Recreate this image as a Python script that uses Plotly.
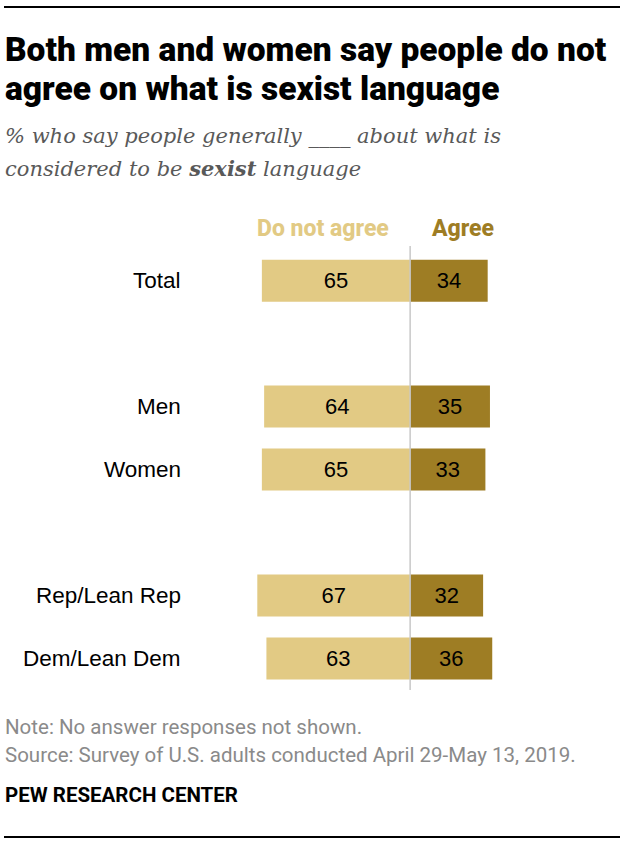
import plotly.graph_objects as go

# data
categories = ["Total", "Men", "Women", "Rep/Lean Rep", "Dem/Lean Dem"]
slots = [0, 2, 3, 5, 6]          # empty slots at 1 and 4 separate the groups
do_not_agree = [65, 64, 65, 67, 63]
agree = [34, 35, 33, 32, 36]

LIGHT = "#E2CA84"
DARK = "#9E7D24"
W, H = 624, 846

# plot area in pixels
L, T = 250, 246
PW = 276
PH = 444
R, B = W - L - PW, H - T - PH


def px(x, y):
    # page pixels -> paper coords
    return (x - L) / PW, 1 - (y - T) / PH


SANS = "Liberation Sans, Arial"
NARROW = "Liberation Sans Narrow, Roboto"

fig = go.Figure()
fig.add_trace(go.Bar(
    y=slots, x=[-v for v in do_not_agree], orientation="h",
    marker=dict(color=LIGHT, line=dict(width=0)), width=0.667,
    text=[str(v) for v in do_not_agree], textposition="inside",
    insidetextanchor="middle",
    textfont=dict(family=SANS, size=22, color="#000"),
    hoverinfo="skip",
))
fig.add_trace(go.Bar(
    y=slots, x=agree, orientation="h",
    marker=dict(color=DARK, line=dict(width=0)), width=0.667,
    text=[str(v) for v in agree], textposition="inside",
    insidetextanchor="middle",
    textfont=dict(family=SANS, size=22, color="#000"),
    hoverinfo="skip",
))

ann = []
for cat, s in zip(categories, slots):
    ann.append(dict(xref="paper", yref="y", x=px(183, 0)[0], y=s, text=cat,
                    xanchor="right", yanchor="middle", showarrow=False,
                    font=dict(family=SANS, size=22.5, color="#000")))

# column headers
ann.append(dict(xref="x", yref="paper", x=-38, y=px(0, 228)[1], text="Do not agree",
                showarrow=False, xanchor="center", yanchor="middle",
                font=dict(family="Roboto", size=23, weight=800, color=LIGHT)))
ann.append(dict(xref="x", yref="paper", x=23, y=px(0, 228)[1], text="Agree",
                showarrow=False, xanchor="center", yanchor="middle",
                font=dict(family="Roboto", size=23, weight=800, color=DARK)))

# title, subtitle, notes
x0 = px(3, 0)[0]
title_lines = ["Both men and women say people do not", "agree on what is sexist language"]
for line, y in zip(title_lines, [49, 88]):
    ann.append(dict(xref="paper", yref="paper", x=x0, y=px(0, y)[1], text=line,
                    showarrow=False, xanchor="left", yanchor="middle",
                    font=dict(family="Roboto", size=33.5, weight=900, color="#000")))
sub_lines = ["<i>% who say people generally ____ about what is</i>",
             "<i>considered to be <b>sexist</b> language</i>"]
for line, y in zip(sub_lines, [136, 168]):
    ann.append(dict(xref="paper", yref="paper", x=x0, y=px(0, y)[1], text=line,
                    showarrow=False, xanchor="left", yanchor="middle",
                    font=dict(family="DejaVu Serif", size=21, color="#595959")))
notes = [("Note: No answer responses not shown.", 727, "#8a8a8a", False),
         ("Source: Survey of U.S. adults conducted April 29-May 13, 2019.", 755, "#8a8a8a", False),
         ("PEW RESEARCH CENTER", 795, "#000", True)]
for txt, y, col, bold in notes:
    ann.append(dict(xref="paper", yref="paper", x=x0, y=px(0, y)[1],
                    text="<b>%s</b>" % txt if bold else txt,
                    showarrow=False, xanchor="left", yanchor="middle",
                    font=dict(family=NARROW, size=20.5, color=col)))

shapes = [
    dict(type="line", xref="x", yref="paper", x0=0, x1=0, y0=0, y1=1,
         line=dict(color="#c8c8c8", width=1.5)),
    dict(type="line", xref="paper", yref="paper", x0=px(4, 0)[0], x1=px(620, 0)[0],
         y0=px(0, 7)[1], y1=px(0, 7)[1], line=dict(color="#000", width=2.2)),
    dict(type="line", xref="paper", yref="paper", x0=px(4, 0)[0], x1=px(620, 0)[0],
         y0=px(0, 837)[1], y1=px(0, 837)[1], line=dict(color="#000", width=2.2)),
]

fig.update_layout(
    width=W, height=H, barmode="relative", showlegend=False,
    margin=dict(l=L, r=R, t=T, b=B),
    paper_bgcolor="white", plot_bgcolor="white",
    xaxis=dict(range=[-70.2, 50.8], visible=False, fixedrange=True),
    yaxis=dict(range=[6.5, -0.55], visible=False, fixedrange=True),
    annotations=ann, shapes=shapes,
    font=dict(family=SANS),
)

fig.write_html("out.html", config={"displayModeBar": False},
               post_script="document.body.style.margin='0';")
